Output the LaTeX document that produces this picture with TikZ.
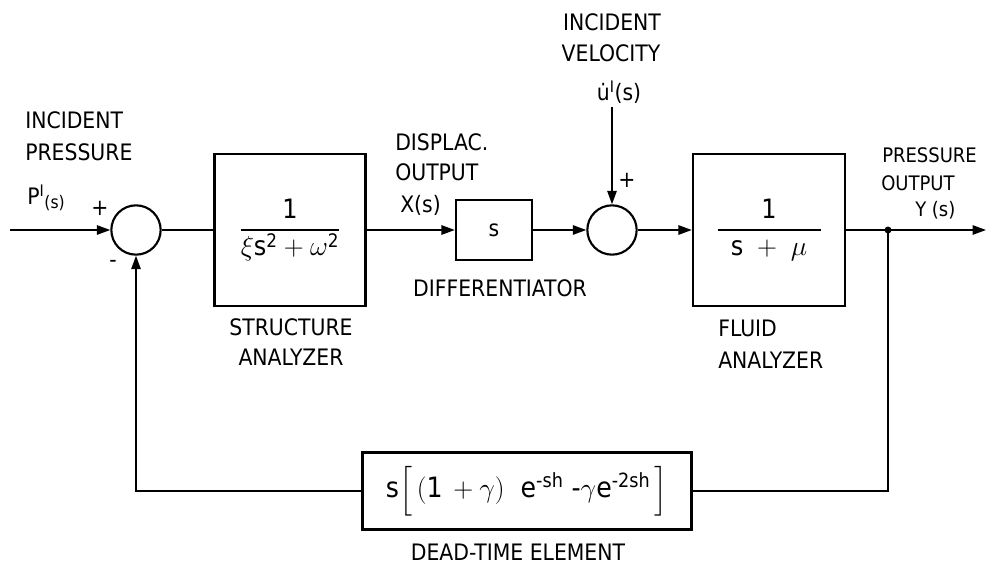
\documentclass[tikz,border=0pt]{standalone}
\usepackage{amsmath}
\usepackage{fontspec}
\setmainfont{DejaVu Sans Condensed}
\usetikzlibrary{arrows.meta}

\newcommand{\lblfont}{\fontsize{17}{22}\selectfont}
\newcommand{\outfont}{\fontsize{15}{20}\selectfont}
\newcommand{\smallfont}{\fontsize{13}{15}\selectfont}
\newcommand{\fracfont}{\fontsize{20}{24}\selectfont}

\begin{document}
\begin{tikzpicture}[x=0.75pt,y=0.75pt,yscale=-1,xscale=1,
  blk/.style={draw, line width=1.8pt, inner sep=0pt},
  sumnode/.style={draw, circle, line width=1.6pt, minimum size=37pt, inner sep=0pt},
  sig/.style={line width=1.2pt},
  arr/.style={sig, -{Triangle[length=10pt,width=7pt]}},
  lbl/.style={font=\lblfont, inner sep=0pt},
  outlbl/.style={font=\outfont, inner sep=0pt}]

\useasboundingbox (0,0) rectangle (999,571);

%Blocks
\node [sumnode] (sum1) at (136,230) {};
\node [blk, minimum width=113pt, minimum height=114pt] (structure) at (290,230)
  {\fracfont$\displaystyle\frac{\text{1}}{\xi\text{s}^{\text{2}}+\omega^{\text{2}}}$};
\node [blk, minimum width=57pt, minimum height=45pt] (diff) at (494,230) {\lblfont s};
\node [sumnode] (sum2) at (612,230) {};
\node [blk, minimum width=114pt, minimum height=114pt] (fluid) at (769,230)
  {\fracfont$\displaystyle\frac{\text{1}}{\enspace\text{s}\;+\;\mu\enspace}$};
\node [blk, minimum width=247pt, minimum height=58pt] (deadtime) at (527,491)
  {\fontsize{21}{24}\selectfont$\text{s}\Bigl[\,(\text{1}\,+\gamma)\ \ \text{e}^{\text{-sh}}\ \text{-}\gamma\text{e}^{\text{-2sh}}\,\Bigr]$};

%Junction and free ends
\fill (888,230) circle (2.6pt);
\coordinate (jn) at (888,230);
\coordinate (in) at (10,230);
\coordinate (out) at (986,230);
\coordinate (uin) at (612,107);

%Connectors
\draw [arr] (in) -- (sum1.west);
\draw [sig] (sum1.east) -- (structure.west);
\draw [arr] (structure.east) -- (diff.west);
\draw [arr] (diff.east) -- (sum2.west);
\draw [arr] (uin) -- (sum2.north);
\draw [arr] (sum2.east) -- (fluid.west);
\draw [sig] (fluid.east) -- (jn);
\draw [arr] (jn) -- (out);
\draw [sig] (jn) |- (deadtime.east);
\draw [arr] (deadtime.west) -| (sum1.south);

% Text Node
\node [lbl, anchor=west] (incp1) at (25,120) {INCIDENT};
\node [lbl, anchor=west] (incp2) at (25,152) {PRESSURE};
\node [lbl, anchor=west] (incp3) at (27,198) {P\textsuperscript{I}\raisebox{-3pt}{\smallfont(s)}};
% Text Node
\node [lbl] (plus1) at (100,208) {+};
\node [lbl] (minus1) at (113,264) {-};
\node [lbl] (plus2) at (627,180) {+};
% Text Node
\node [lbl, anchor=west] (disp1) at (395,142) {DISPLAC.};
\node [lbl, anchor=west] (disp2) at (395,172) {OUTPUT};
\node [lbl, anchor=west] (disp3) at (400,205) {X(s)};
% Text Node
\node [lbl] (incv1) at (612,22) {INCIDENT};
\node [lbl] (incv2) at (611,53) {VELOCITY};
\node [lbl] (incv3) at (619,92) {\.{u}\textsuperscript{I}(s)};
% Text Node
\node [outlbl, anchor=west] (pout1) at (882,155) {PRESSURE};
\node [outlbl, anchor=west] (pout2) at (881,183) {OUTPUT};
\node [outlbl, anchor=west] (pout3) at (915,210) {Y (s)};
% Text Node
\node [lbl] (str1) at (291,327) {STRUCTURE};
\node [lbl] (str2) at (291,357) {ANALYZER};
\node [lbl] (dif1) at (500,288) {DIFFERENTIATOR};
\node [lbl, anchor=west] (fl1) at (718,328) {FLUID};
\node [lbl, anchor=west] (fl2) at (718,360) {ANALYZER};
\node [lbl] (dte) at (518,552) {DEAD-TIME ELEMENT};

\end{tikzpicture}
\end{document}
